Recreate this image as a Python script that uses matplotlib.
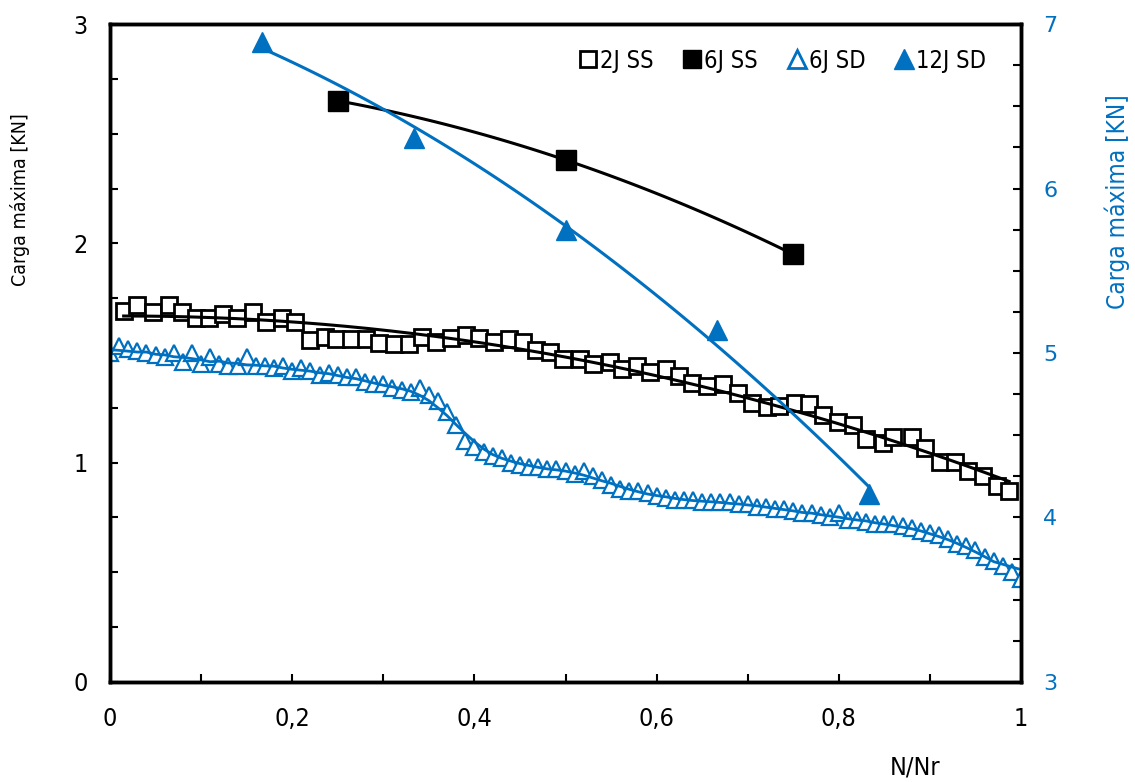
import numpy as np
import pandas as pd
import matplotlib
matplotlib.use('Agg')
import matplotlib.pyplot as plt
from matplotlib.lines import Line2D
from matplotlib.ticker import MultipleLocator, FuncFormatter

blue = '#0070C0'

# 2J SS - carga maxima [KN], eje izquierdo
x_2j_ss = [0.015, 0.030, 0.047, 0.065, 0.079, 0.094, 0.109, 0.124, 0.139, 0.157,
           0.171, 0.189, 0.203, 0.220, 0.236, 0.248, 0.265, 0.281, 0.295, 0.312,
           0.328, 0.342, 0.358, 0.374, 0.391, 0.405, 0.422, 0.438, 0.453, 0.468,
           0.483, 0.497, 0.516, 0.530, 0.549, 0.562, 0.578, 0.593, 0.610, 0.625,
           0.639, 0.655, 0.673, 0.689, 0.705, 0.721, 0.734, 0.752, 0.767, 0.783,
           0.799, 0.816, 0.830, 0.849, 0.859, 0.880, 0.895, 0.911, 0.928, 0.942,
           0.958, 0.974, 0.987]
y_2j_ss = [1.691, 1.719, 1.687, 1.719, 1.687, 1.660, 1.660, 1.678, 1.660, 1.687,
           1.641, 1.660, 1.641, 1.559, 1.573, 1.564, 1.564, 1.564, 1.546, 1.541,
           1.541, 1.573, 1.550, 1.568, 1.582, 1.568, 1.550, 1.564, 1.550, 1.514,
           1.504, 1.473, 1.473, 1.450, 1.459, 1.427, 1.441, 1.413, 1.427, 1.395,
           1.363, 1.350, 1.359, 1.318, 1.272, 1.254, 1.258, 1.272, 1.267, 1.217,
           1.185, 1.172, 1.108, 1.090, 1.117, 1.117, 1.067, 1.003, 1.003, 0.962,
           0.939, 0.894, 0.871]

# 6J SS
x_6j_ss = [0.25, 0.50, 0.75]
y_6j_ss = [2.65, 2.38, 1.95]

# 6J SD
x_6j_sd = [0.00, 0.01, 0.02, 0.03, 0.04, 0.05, 0.06, 0.07, 0.08, 0.09,
           0.10, 0.11, 0.12, 0.13, 0.14, 0.15, 0.16, 0.17, 0.18, 0.19,
           0.20, 0.21, 0.22, 0.23, 0.24, 0.25, 0.26, 0.27, 0.28, 0.29,
           0.30, 0.31, 0.32, 0.33, 0.34, 0.35, 0.36, 0.37, 0.38, 0.39,
           0.40, 0.41, 0.42, 0.43, 0.44, 0.45, 0.46, 0.47, 0.48, 0.49,
           0.50, 0.51, 0.52, 0.53, 0.54, 0.55, 0.56, 0.57, 0.58, 0.59,
           0.60, 0.61, 0.62, 0.63, 0.64, 0.65, 0.66, 0.67, 0.68, 0.69,
           0.70, 0.71, 0.72, 0.73, 0.74, 0.75, 0.76, 0.77, 0.78, 0.79,
           0.80, 0.81, 0.82, 0.83, 0.84, 0.85, 0.86, 0.87, 0.88, 0.89,
           0.90, 0.91, 0.92, 0.93, 0.94, 0.95, 0.96, 0.97, 0.98, 0.99, 1.00]
y_6j_sd = [1.50, 1.53, 1.52, 1.51, 1.50, 1.49, 1.48, 1.50, 1.46, 1.50,
           1.45, 1.48, 1.45, 1.44, 1.44, 1.48, 1.44, 1.44, 1.43, 1.44,
           1.42, 1.43, 1.42, 1.40, 1.41, 1.40, 1.39, 1.39, 1.37, 1.36,
           1.36, 1.34, 1.33, 1.32, 1.34, 1.31, 1.28, 1.23, 1.17, 1.10,
           1.07, 1.05, 1.03, 1.02, 1.00, 0.99, 0.98, 0.98, 0.97, 0.97,
           0.96, 0.95, 0.96, 0.94, 0.92, 0.90, 0.88, 0.87, 0.87, 0.86,
           0.85, 0.84, 0.83, 0.83, 0.83, 0.82, 0.82, 0.82, 0.82, 0.81,
           0.81, 0.80, 0.80, 0.79, 0.79, 0.78, 0.77, 0.77, 0.76, 0.75,
           0.77, 0.74, 0.74, 0.73, 0.72, 0.72, 0.72, 0.71, 0.70, 0.69,
           0.68, 0.67, 0.65, 0.63, 0.62, 0.60, 0.57, 0.55, 0.53, 0.50, 0.47]

# 12J SD - eje derecho
x_12j_sd = [1/6, 1/3, 0.5, 2/3, 5/6]
y_12j_sd = [6.89, 6.31, 5.75, 5.14, 4.14]

fig = plt.figure(figsize=(11.35, 7.82), dpi=100)
ax = fig.add_axes([0.0969, 0.1279, 0.8027, 0.8414])
ax2 = ax.twinx()

# series eje izquierdo
ax.plot(x_2j_ss, y_2j_ss, 's', ms=12, mfc='white', mec='black', mew=2, zorder=2)
xs = np.linspace(x_2j_ss[0], x_2j_ss[-1], 200)
ax.plot(xs, np.polyval(np.polyfit(x_2j_ss, y_2j_ss, 2), xs), color='black', lw=2.2, zorder=3)

ax.plot(x_6j_sd, y_6j_sd, '^', ms=12, mfc='white', mec=blue, mew=1.6, zorder=2)
ma = pd.Series(y_6j_sd).rolling(7, center=True, min_periods=1).mean()
ax.plot(x_6j_sd, ma, color=blue, lw=2, zorder=3)

ax.plot(x_6j_ss, y_6j_ss, 's', ms=14, color='black', zorder=4)
xs = np.linspace(x_6j_ss[0], x_6j_ss[-1], 100)
ax.plot(xs, np.polyval(np.polyfit(x_6j_ss, y_6j_ss, 2), xs), color='black', lw=2.2, zorder=4)

# serie eje derecho
ax2.plot(x_12j_sd, y_12j_sd, '^', ms=15, color=blue, zorder=4)
xs = np.linspace(x_12j_sd[0], x_12j_sd[-1], 100)
ax2.plot(xs, np.polyval(np.polyfit(x_12j_sd, y_12j_sd, 2), xs), color=blue, lw=2.2, zorder=4)

ax.set_xlim(0, 1)
ax.set_ylim(0, 3)
ax2.set_ylim(3, 7)

ax.xaxis.set_major_locator(MultipleLocator(0.2))
ax.xaxis.set_minor_locator(MultipleLocator(0.1))
ax.yaxis.set_major_locator(MultipleLocator(1))
ax.yaxis.set_minor_locator(MultipleLocator(0.25))
ax2.yaxis.set_major_locator(MultipleLocator(1))
ax2.yaxis.set_minor_locator(MultipleLocator(0.25))
ax.xaxis.set_major_formatter(FuncFormatter(lambda v, p: ('%g' % round(v, 1)).replace('.', ',')))

ax.tick_params(axis='x', which='both', direction='in', length=6, width=1.5, top=False, pad=18,
               labelsize=18)
ax.tick_params(axis='y', which='both', direction='in', length=6, width=1.5, right=False, pad=16,
               labelsize=18)
ax2.tick_params(axis='y', which='both', direction='in', length=6, width=1.5, pad=16,
                labelsize=16, labelcolor=blue)
for lab in ax.get_xticklabels() + ax.get_yticklabels():
    lab.set_fontstretch('condensed')

for a in (ax, ax2):
    for s in a.spines.values():
        s.set_linewidth(2.5)

ax.set_xlabel('N/Nr', fontsize=18, fontstretch='condensed')
ax.xaxis.set_label_coords(0.884, -0.112)
ax.set_ylabel('Carga máxima [KN]', fontsize=14, fontstretch='condensed')
ax.yaxis.set_label_coords(-0.088, 0.733)
ax2.set_ylabel('Carga máxima [KN]', fontsize=17.5, fontstretch='condensed', color=blue)
ax2.yaxis.set_label_coords(1.092, 0.73)

handles = [
    Line2D([], [], ls='none', marker='s', ms=12, mfc='white', mec='black', mew=2),
    Line2D([], [], ls='none', marker='s', ms=13, color='black'),
    Line2D([], [], ls='none', marker='^', ms=13, mfc='white', mec=blue, mew=2),
    Line2D([], [], ls='none', marker='^', ms=14, color=blue),
]
ax.legend(handles, ['2J SS', '6J SS', '6J SD', '12J SD'], ncol=4, loc='upper right',
          bbox_to_anchor=(0.985, 0.995), frameon=False, handlelength=0.8, handletextpad=0.1,
          columnspacing=1.25, prop={'size': 17, 'stretch': 'condensed'})

fig.savefig('out.png', dpi=100)
